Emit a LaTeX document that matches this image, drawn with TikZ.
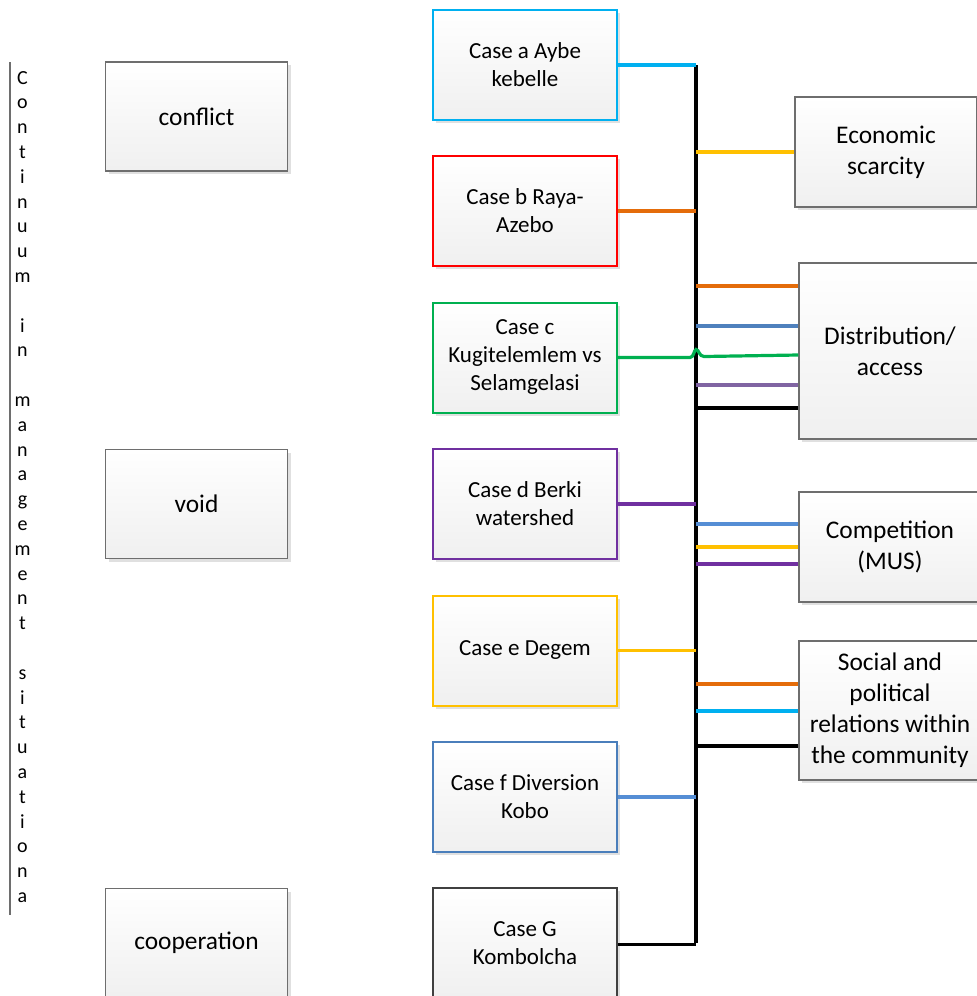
\documentclass[tikz,border=0pt]{standalone}
\usepackage{fontspec}
\setmainfont{Carlito}
\usepackage{xcolor}
\usetikzlibrary{shadows, calc}
\definecolor{cyanA}{HTML}{00B0F0}
\definecolor{redB}{HTML}{FF0000}
\definecolor{greenC}{HTML}{00B050}
\definecolor{purpleD}{HTML}{7030A0}
\definecolor{yellowE}{HTML}{FFC000}
\definecolor{blueF}{HTML}{4A7EBB}
\definecolor{greyG}{HTML}{404040}
\definecolor{orangeL}{HTML}{E46C0A}
\definecolor{steelL}{HTML}{4F81BD}
\definecolor{skyL}{HTML}{558ED5}
\definecolor{lilacL}{HTML}{8064A2}
\definecolor{frameGrey}{HTML}{6E6E6E}
\tikzset{
  casebox/.style={draw=#1, line width=1pt, minimum width=92pt, minimum height=55pt,
    align=center, top color=white, bottom color=black!6,
    drop shadow={shadow xshift=1.5pt, shadow yshift=-1.5pt, fill=black!12, opacity=1},
    font=\fontsize{11.5}{14}\selectfont},
  factorbox/.style={draw=frameGrey, line width=0.75pt, minimum width=91pt,
    align=center, top color=white, bottom color=black!6,
    drop shadow={shadow xshift=1.5pt, shadow yshift=-1.5pt, fill=black!12, opacity=1},
    font=\fontsize{12.7}{15.5}\selectfont},
  link/.style={line width=1.6pt}
}
\begin{document}
\begin{tikzpicture}[x=0.5pt, y=-0.5pt]
  \useasboundingbox (0,0) rectangle (976,996);
  % continuum axis
  \draw[frameGrey, line width=0.6pt] (10,62) coordinate (axtop) -- (10,915) coordinate (axbot);
  \foreach \ch [count=\i] in {C,o,n,t,i,n,u,u,m,{},i,n,{},m,a,n,a,g,e,m,e,n,t,{},s,i,t,u,a,t,i,o,n,a}
    \node[anchor=base, inner sep=0pt, font=\fontsize{10}{12}\selectfont] (ax\i) at (22.5,{84+24.8*(\i-1)}) {\ch};
  % situations
  \node[factorbox, minimum height=54.5pt] (conflict) at (196.5,116.5) {conflict};
  \node[factorbox, minimum height=54.5pt] (void) at (196.5,504) {void};
  \node[factorbox, minimum height=54.5pt] (coop) at (196.5,943) {cooperation};
  % cases
  \node[casebox=cyanA] (ca) at (525,65) {Case a Aybe\\kebelle};
  \node[casebox=redB] (cb) at (525,211) {Case b Raya-\\Azebo};
  \node[casebox=greenC] (cc) at (525,357.5) {Case c\\Kugitelemlem vs\\Selamgelasi};
  \node[casebox=purpleD] (cd) at (525,504) {Case d Berki\\watershed};
  \node[casebox=yellowE] (ce) at (525,650.5) {Case e Degem};
  \node[casebox=blueF] (cf) at (525,797) {Case f Diversion\\Kobo};
  \node[casebox=greyG] (cg) at (525,943) {Case G\\Kombolcha};
  % factors
  \node[factorbox, minimum height=55pt] (econ) at (886,152) {Economic\\scarcity};
  \node[factorbox, minimum height=88pt] (dist) at (890,351) {Distribution/\\access};
  \node[factorbox, minimum height=55pt] (comp) at (890,547) {Competition\\(MUS)};
  \node[factorbox, minimum height=69.5pt] (social) at (890,710.5) {Social and\\political\\relations within\\the community};
  % bus
  \coordinate (bus) at (696,66);
  \draw[line width=2pt] (ca.east -| bus) -- (cg.east -| bus);
  % cases to bus
  \draw[link, cyanA] (ca.east) -- (ca.east -| bus);
  \draw[link, orangeL] (cb.east) -- (cb.east -| bus);
  \draw[link, purpleD] (cd.east) -- (cd.east -| bus);
  \draw[link, yellowE] (ce.east) -- (ce.east -| bus);
  \draw[link, skyL] (cf.east) -- (cf.east -| bus);
  \draw[link, black] ([yshift=-0.75pt]cg.east) -- ([yshift=-0.75pt]cg.east -| bus);
  \draw[link, greenC] (cc.east) -- ([xshift=-3pt]cc.east -| bus)
    .. controls ([xshift=-1pt]cc.east -| bus) and ([xshift=-1pt,yshift=4pt]cc.east -| bus)
    .. ([yshift=4pt]cc.east -| bus)
    .. controls ([xshift=1.5pt,yshift=4pt]cc.east -| bus) and ([xshift=1.5pt,yshift=0.5pt]cc.east -| bus)
    .. ([xshift=4pt,yshift=0.5pt]cc.east -| bus) -- (dist.west |- 0,355);
  % bus to factors
  \draw[link, yellowE] (bus |- 0,152) -- (econ.west |- 0,152);
  \draw[link, orangeL] (bus |- 0,286) -- (dist.west |- 0,286);
  \draw[link, steelL] (bus |- 0,326) -- (dist.west |- 0,326);
  \draw[link, lilacL] (bus |- 0,385) -- (dist.west |- 0,385);
  \draw[link, black] (bus |- 0,408) -- (dist.west |- 0,408);
  \draw[link, skyL] (bus |- 0,524) -- (comp.west |- 0,524);
  \draw[link, yellowE] (bus |- 0,547) -- (comp.west |- 0,547);
  \draw[link, purpleD] (bus |- 0,564) -- (comp.west |- 0,564);
  \draw[link, orangeL] (bus |- 0,684) -- (social.west |- 0,684);
  \draw[link, cyanA] (bus |- 0,711) -- (social.west |- 0,711);
  \draw[link, black] (bus |- 0,746) -- (social.west |- 0,746);
\end{tikzpicture}
\end{document}
